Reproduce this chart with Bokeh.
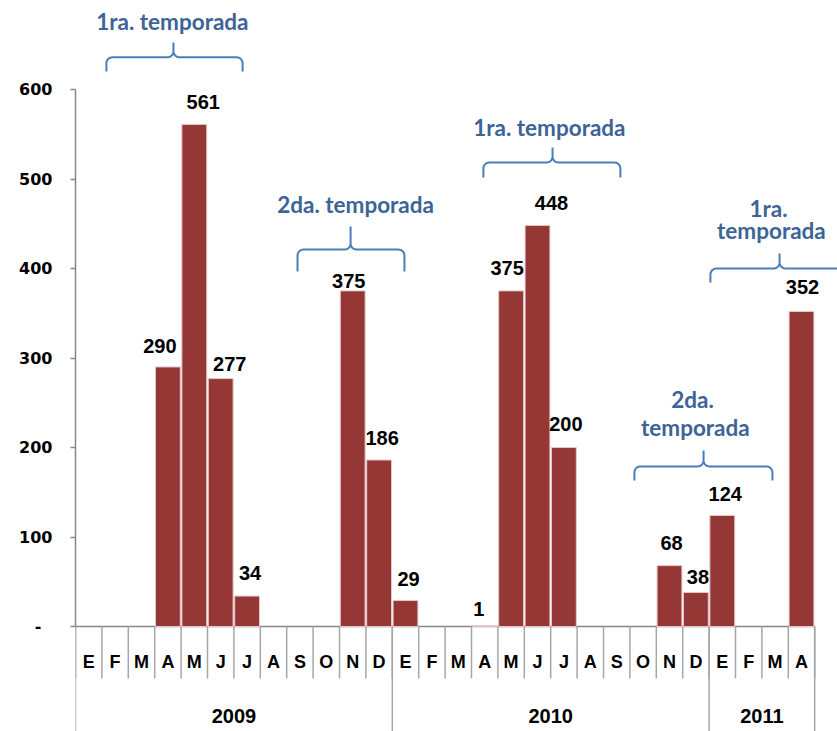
import math
from bokeh.plotting import figure
from bokeh.models import Range1d, FixedTicker, ColumnDataSource
from bokeh.core.properties import value
from bokeh.embed import file_html
from bokeh.resources import INLINE

# ---------------- data ----------------
months = ["E", "F", "M", "A", "M", "J", "J", "A", "S", "O", "N", "D",
          "E", "F", "M", "A", "M", "J", "J", "A", "S", "O", "N", "D",
          "E", "F", "M", "A"]
years = ["2009", "2010", "2011"]
year_months = [12, 12, 4]
cases = [0, 0, 0, 290, 561, 277, 34, 0, 0, 0, 375, 186,
         29, 0, 0, 1, 375, 448, 200, 0, 0, 0, 68, 38,
         124, 0, 0, 352]
y_ticks = [0, 100, 200, 300, 400, 500, 600]

# label nudges (px): horizontal shift, height above bar top
label_dx = [-8, 9, 9, 3, -4, 3, 3, -6, -4, 14, 2, 2, 2, 3, 1]
label_dy = [21, 22, 15, 23, 10, 22, 22, 17, 23, 23, 24, 23, 15, 22, 24]

# season annotations: brace (x0, x1, xtip, y_arm_bottom, y_line, y_tip)
braces = [
    (1.17, 6.33, 3.71, 620.0, 636.0, 652.5),
    (8.41, 12.46, 10.42, 396.6, 421.2, 446.9),
    (15.45, 20.64, 18.07, 501.7, 518.4, 535.2),
    (21.17, 26.40, 23.79, 163.1, 178.8, 196.6),
    (24.05, 29.80, 26.67, 384.4, 400.0, 416.8),
]
season_text = ["1ra. temporada", "2da. temporada", "1ra. temporada",
               "2da.", "temporada", "1ra.", "temporada"]
season_x = [3.67, 10.61, 17.95, 23.37, 23.48, 26.25, 26.36]
season_y = [676.0, 471.5, 557.5, 253.6, 222.9, 466.5, 442.5]

# ---------------- layout ----------------
W, H = 837, 731
LEFT = 75
FRAME_W = W - LEFT
CAT_PX = 26.4
PX_PER_UNIT = 0.895
ZERO_Y = 626
X_END = FRAME_W / CAT_PX
Y_END = ZERO_Y / PX_PER_UNIT
Y_START = -(H - ZERO_Y) / PX_PER_UNIT

p = figure(width=W, height=H, output_backend="svg", toolbar_location=None,
           x_range=Range1d(0, X_END), y_range=Range1d(Y_START, Y_END),
           min_border_left=LEFT, min_border_right=0, min_border_top=0,
           min_border_bottom=0, x_axis_location=None)
p.outline_line_color = None
p.grid.visible = False
p.background_fill_color = "white"
p.border_fill_color = "white"

ax = p.yaxis[0]
ax.ticker = FixedTicker(ticks=y_ticks)
ax.bounds = (0, 600)
ax.major_label_overrides = {0: "-\u00a0\u00a0"}
ax.axis_line_color = "#878787"
ax.axis_line_width = 1.5
ax.major_tick_line_color = "#878787"
ax.major_tick_line_width = 1.5
ax.major_tick_out = 5
ax.major_tick_in = 0
ax.minor_tick_line_color = None
ax.major_label_standoff = 18
ax.major_label_text_font = "DejaVu Sans"
ax.major_label_text_font_style = "bold"
ax.major_label_text_font_size = "16px"
ax.major_label_text_color = "black"

GRAY = "#a6a6a6"
n = len(months)
xs = [i + 0.5 for i in range(n)]

# category axis: baseline, month separators, year separators
p.segment(x0=[-5 / CAT_PX], y0=[0], x1=[n], y1=[0], line_color="#878787", line_width=1.5)
p.segment(x0=list(range(n + 1)), y0=[0] * (n + 1), x1=list(range(n + 1)),
          y1=[-58] * (n + 1), line_color=GRAY, line_width=1.5)
bounds = [0]
for c in year_months:
    bounds.append(bounds[-1] + c)
p.segment(x0=bounds, y0=[0] * len(bounds), x1=bounds, y1=[Y_START] * len(bounds),
          line_color=GRAY, line_width=1.5)

p.text(x=xs, y=[-39.7] * n, text=months, text_align="center", text_baseline="middle",
       text_font=value("Liberation Sans"), text_font_style="bold",
       text_font_size="18px", text_color="black")
ycent = [(bounds[i] + bounds[i + 1]) / 2 for i in range(len(years))]
p.text(x=ycent, y=[-100] * len(years), text=years, text_align="center",
       text_baseline="middle", text_font=value("Liberation Sans"),
       text_font_style="bold", text_font_size="20px", text_color="black")

# bars
bx = [xs[i] for i in range(n) if cases[i] > 0]
bv = [cases[i] for i in range(n) if cases[i] > 0]
p.vbar(x=bx, top=bv, bottom=0, width=0.94, fill_color="#953735",
       line_color="#e3c8c8", line_width=1)

src = ColumnDataSource(dict(x=bx, y=bv, t=[str(v) for v in bv],
                            dx=label_dx, dy=[-d for d in label_dy]))
p.text(x="x", y="y", text="t", x_offset="dx", y_offset="dy", source=src,
       text_align="center", text_baseline="middle",
       text_font=value("Liberation Sans"), text_font_style="bold",
       text_font_size="20px", text_color="black")

# braces
R = 6.0


def arc(cx, cy, a0, a1, steps=8):
    pts = []
    for k in range(steps + 1):
        a = math.radians(a0 + (a1 - a0) * k / steps)
        pts.append((cx + R * math.cos(a) / CAT_PX, cy + R * math.sin(a) / PX_PER_UNIT))
    return pts


bxs, bys = [], []
for (x0, x1, xt, yb, yl, yt) in braces:
    rx = R / CAT_PX
    ry = R / PX_PER_UNIT
    pts = [(x0, yb)]
    pts += arc(x0 + rx, yl - ry, 180, 90)
    pts += arc(xt - rx, yl + ry, -90, 0)
    pts += [(xt, yt), (xt, yl + ry)]
    pts += arc(xt + rx, yl + ry, 180, 270)
    pts += arc(x1 - rx, yl - ry, 90, 0)
    pts += [(x1, yb)]
    bxs.append([q[0] for q in pts])
    bys.append([q[1] for q in pts])
p.multi_line(xs=bxs, ys=bys, line_color="#4a7ebb", line_width=2)

p.text(x=season_x, y=season_y, text=season_text, text_align="center",
       text_baseline="middle", text_font=value("Lato"), text_font_style="bold",
       text_font_size="22.5px", text_color="#3c6496")

open("out.html", "w").write(file_html(p, INLINE))
